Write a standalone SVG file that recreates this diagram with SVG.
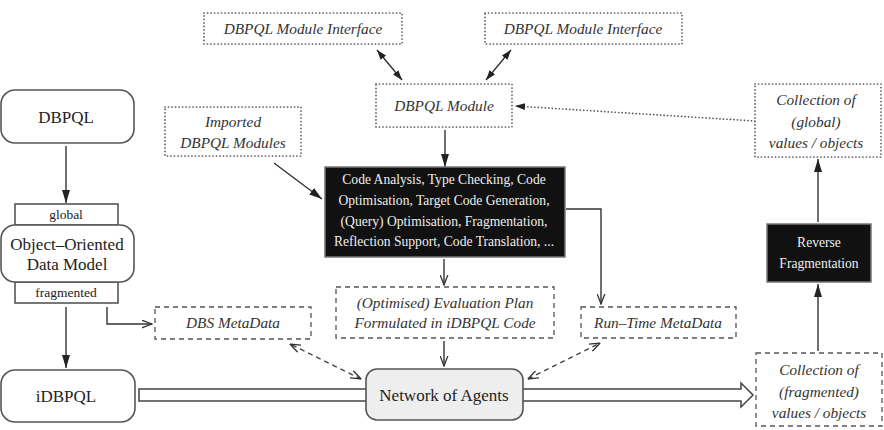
<svg xmlns="http://www.w3.org/2000/svg" width="884" height="430" viewBox="0 0 884 430">
<style>
.bg{fill:#fff}
.solid{fill:#fff;stroke:#555;stroke-width:1.6}
.dot{fill:#fff;stroke:#555;stroke-width:1.7;stroke-dasharray:0.1 3.4;stroke-linecap:round}
.dash{fill:#fff;stroke:#555;stroke-width:1.3;stroke-dasharray:5 4}
.black{fill:#111;stroke:#777;stroke-width:1.5}
.gray{fill:#eeeeee;stroke:#555;stroke-width:1.6}
.t{font-family:"Liberation Serif","Times New Roman",serif;fill:#222;text-anchor:middle}
.big{font-size:17px}
.small{font-size:13.5px}
.it{font-style:italic;font-size:15.3px;fill:#333}
.w{fill:#eee;font-size:13.6px}
.ln{fill:none;stroke:#333;stroke-width:1.4}
.lnd{fill:none;stroke:#444;stroke-width:1.4;stroke-dasharray:5 4}
.lnp{fill:none;stroke:#555;stroke-width:1.7;stroke-dasharray:0.1 3.4;stroke-linecap:round}
.hol{fill:none;stroke:#444;stroke-width:1.5}
</style>
<defs>
<marker id="fa" viewBox="0 0 13 8" refX="13" refY="4" markerWidth="13" markerHeight="8" markerUnits="userSpaceOnUse" orient="auto-start-reverse">
<path d="M0,0 L13,4 L0,8 z" fill="#222"/>
</marker>
<marker id="fs" viewBox="0 0 10 7" refX="10" refY="3.5" markerWidth="10" markerHeight="7" markerUnits="userSpaceOnUse" orient="auto-start-reverse">
<path d="M0,0 L10,3.5 L0,7 z" fill="#222"/>
</marker>
<marker id="op" viewBox="0 0 11 9" refX="10.5" refY="4.5" markerWidth="11" markerHeight="9" markerUnits="userSpaceOnUse" orient="auto-start-reverse">
<path d="M0,0.5 L10.5,4.5 L0,8.5" fill="none" stroke="#333" stroke-width="1.3"/>
</marker>
</defs>
<rect class="bg" x="0" y="0" width="884" height="430"/>

<g id="connectors">
<line class="ln" x1="66" y1="146" x2="66" y2="203" marker-end="url(#fa)"/>
<line class="ln" x1="66" y1="307" x2="66" y2="368" marker-end="url(#fa)"/>
<path class="ln" d="M107,307 V324 H152" marker-end="url(#op)"/>
<line class="ln" x1="377" y1="50" x2="402" y2="80" marker-start="url(#fs)" marker-end="url(#fs)"/>
<line class="ln" x1="511" y1="50" x2="486" y2="80" marker-start="url(#fs)" marker-end="url(#fs)"/>
<line class="ln" x1="445" y1="130" x2="445" y2="167" marker-end="url(#fa)"/>
<line class="ln" x1="274" y1="163" x2="322" y2="199" marker-end="url(#fa)"/>
<line class="lnp" x1="755" y1="121" x2="515" y2="106" marker-end="url(#fs)"/>
<line class="ln" x1="444" y1="259" x2="444" y2="285" marker-end="url(#op)"/>
<path class="ln" d="M566,209 H601 V304" marker-end="url(#op)"/>
<line class="ln" x1="444" y1="341" x2="444" y2="366" marker-end="url(#op)"/>
<line class="lnd" x1="361" y1="379" x2="290" y2="344" marker-start="url(#op)" marker-end="url(#op)"/>
<line class="lnd" x1="528" y1="379" x2="600" y2="343" marker-start="url(#op)" marker-end="url(#op)"/>
<path class="hol" d="M366,389 H139 V401 H366"/>
<path class="hol" d="M523,389 H741 V383 L753,395 L741,407 V401 H523"/>
<line class="ln" x1="818" y1="351" x2="818" y2="284" marker-end="url(#fa)"/>
<line class="ln" x1="818" y1="222" x2="818" y2="159" marker-end="url(#fa)"/>
</g>

<g id="n-dbpql">
<rect class="solid" x="1" y="90" width="133" height="53" rx="14"/>
<text class="t big" x="66" y="123">DBPQL</text>
</g>
<g id="n-global">
<rect class="solid" x="15" y="204" width="103" height="21"/>
<text class="t small" x="66" y="219">global</text>
</g>
<g id="n-fragmented">
<rect class="solid" x="15" y="282" width="103" height="21"/>
<text class="t small" x="66" y="297">fragmented</text>
</g>
<g id="n-oodm">
<rect class="solid" x="1" y="225" width="133" height="57" rx="14"/>
<text class="t big" x="67" y="250">Object–Oriented</text>
<text class="t big" x="67" y="270">Data Model</text>
</g>
<g id="n-idbpql">
<rect class="solid" x="1" y="370" width="134" height="52" rx="14"/>
<text class="t big" x="66" y="402">iDBPQL</text>
</g>
<g id="n-dbsmeta">
<rect class="dash" x="155" y="307" width="156" height="32"/>
<text class="t it" x="233" y="328">DBS MetaData</text>
</g>
<g id="n-imported">
<rect class="dot" x="165" y="107" width="136" height="49"/>
<text class="t it" x="233" y="127">Imported</text>
<text class="t it" x="233" y="148">DBPQL Modules</text>
</g>
<g id="n-iface1">
<rect class="dot" x="204" y="13" width="198" height="31"/>
<text class="t it" x="303" y="34">DBPQL Module Interface</text>
</g>
<g id="n-iface2">
<rect class="dot" x="485" y="13" width="197" height="31"/>
<text class="t it" x="583" y="34">DBPQL Module Interface</text>
</g>
<g id="n-module">
<rect class="dot" x="376" y="84" width="136" height="43"/>
<text class="t it" x="444" y="111">DBPQL Module</text>
</g>
<g id="n-compile">
<rect class="black" x="325" y="167" width="240" height="90"/>
<text class="t w" x="444" y="184">Code Analysis, Type Checking, Code</text>
<text class="t w" x="444" y="205">Optimisation, Target Code Generation,</text>
<text class="t w" x="444" y="226">(Query) Optimisation, Fragmentation,</text>
<text class="t w" x="444" y="246">Reflection Support, Code Translation, ...</text>
</g>
<g id="n-evalplan">
<rect class="dash" x="336" y="287" width="218" height="51"/>
<text class="t it" x="445" y="308">(Optimised) Evaluation Plan</text>
<text class="t it" x="445" y="328">Formulated in iDBPQL Code</text>
</g>
<g id="n-runtime">
<rect class="dash" x="581" y="307" width="155" height="31"/>
<text class="t it" x="658" y="328">Run–Time MetaData</text>
</g>
<g id="n-network">
<rect class="gray" x="366" y="369" width="157" height="51" rx="11"/>
<text class="t big" x="444" y="401">Network of Agents</text>
</g>
<g id="n-collfrag">
<rect class="dash" x="756" y="353" width="126" height="73"/>
<text class="t it" x="819" y="375">Collection of</text>
<text class="t it" x="819" y="397">(fragmented)</text>
<text class="t it" x="819" y="418">values / objects</text>
</g>
<g id="n-reverse">
<rect class="black" x="767" y="224" width="104" height="58"/>
<text class="t w" x="819" y="247">Reverse</text>
<text class="t w" x="819" y="268">Fragmentation</text>
</g>
<g id="n-collglobal">
<rect class="dot" x="755" y="84" width="126" height="73"/>
<text class="t it" x="816" y="105">Collection of</text>
<text class="t it" x="816" y="127">(global)</text>
<text class="t it" x="816" y="148">values / objects</text>
</g>
</svg>
